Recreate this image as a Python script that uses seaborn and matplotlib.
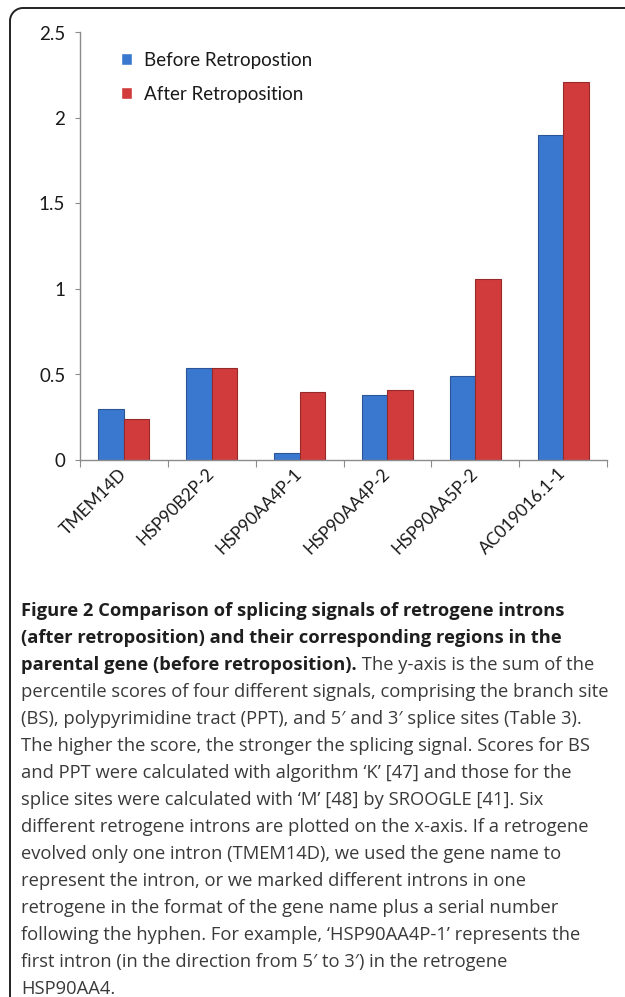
import numpy as np
import pandas as pd
import matplotlib
matplotlib.use("Agg")
import matplotlib.pyplot as plt
from matplotlib import font_manager
from matplotlib.path import Path
from matplotlib.patches import PathPatch
import seaborn as sns

# ---- data ----
categories = ["TMEM14D", "HSP90B2P-2", "HSP90AA4P-1", "HSP90AA4P-2", "HSP90AA5P-2", "AC019016.1-1"]
before_values = [0.30, 0.54, 0.04, 0.38, 0.49, 1.90]
after_values = [0.24, 0.54, 0.40, 0.41, 1.06, 2.21]
series_names = ["Before Retropostion", "After Retroposition"]
y_ticks = [0, 0.5, 1, 1.5, 2, 2.5]
y_ticklabels = ["0", "0.5", "1", "1.5", "2", "2.5"]

caption_lines = [
    [("Figure 2 Comparison of splicing signals of retrogene introns", True)],
    [("(after retroposition) and their corresponding regions in the", True)],
    [("parental gene (before retroposition).", True), (" The y-axis is the sum of the", False)],
    [("percentile scores of four different signals, comprising the branch site", False)],
    [("(BS), polypyrimidine tract (PPT), and 5\u2032 and 3\u2032 splice sites (Table 3).", False)],
    [("The higher the score, the stronger the splicing signal. Scores for BS", False)],
    [("and PPT were calculated with algorithm \u2018K\u2019 [47] and those for the", False)],
    [("splice sites were calculated with \u2018M\u2019 [48] by SROOGLE [41]. Six", False)],
    [("different retrogene introns are plotted on the x-axis. If a retrogene", False)],
    [("evolved only one intron (TMEM14D), we used the gene name to", False)],
    [("represent the intron, or we marked different introns in one", False)],
    [("retrogene in the format of the gene name plus a serial number", False)],
    [("following the hyphen. For example, \u2018HSP90AA4P-1\u2019 represents the", False)],
    [("first intron (in the direction from 5\u2032 to 3\u2032) in the retrogene", False)],
    [("HSP90AA4.", False)],
]

# ---- style ----
sns.set_style("white")
names = {f.name for f in font_manager.fontManager.ttflist}
chart_font = "Lato" if "Lato" in names else "DejaVu Sans"
cap_font = "Liberation Sans Narrow" if "Liberation Sans Narrow" in names else "Open Sans"
plt.rcParams["font.family"] = [chart_font, "DejaVu Sans"]

W, H = 625, 997
fig = plt.figure(figsize=(W / 100, H / 100), dpi=100)
fig.patch.set_facecolor("white")

ax_left, ax_right, ax_top, ax_bottom = 80, 607, 32.5, 460
ax = fig.add_axes([ax_left / W, 1 - ax_bottom / H, (ax_right - ax_left) / W, (ax_bottom - ax_top) / H])

df = pd.DataFrame({
    "category": categories * 2,
    "value": before_values + after_values,
    "series": [series_names[0]] * len(categories) + [series_names[1]] * len(categories),
})
palette = {series_names[0]: "#3a78cf", series_names[1]: "#d13b3b"}
sns.barplot(data=df, x="category", y="value", hue="series", order=categories,
            hue_order=series_names, palette=palette, width=0.58, gap=0,
            saturation=1, ax=ax, errorbar=None)
edge = {series_names[0]: "#2a5596", series_names[1]: "#962a2a"}
for cont, name in zip(ax.containers, series_names):
    for bar in cont:
        bar.set_edgecolor(edge[name])
        bar.set_linewidth(0.8)

ax.set_xlim(-0.5, len(categories) - 0.5)
ax.set_ylim(0, 2.5)
ax.set_yticks(y_ticks)
ax.set_yticklabels(y_ticklabels)
ax.set_xlabel("")
ax.set_ylabel("")
for s in ["top", "right"]:
    ax.spines[s].set_visible(False)
for s in ["left", "bottom"]:
    ax.spines[s].set_color("#8c8c8c")
    ax.spines[s].set_linewidth(1)

ax.tick_params(axis="y", direction="out", length=3.6, width=0.8, color="#8c8c8c",
               pad=7, labelsize=13.5, labelcolor="#1a1a1a", left=True)
ax.set_xticks(np.arange(len(categories)))
ax.set_xticks(np.arange(-0.5, len(categories)), minor=True)
ax.tick_params(axis="x", which="major", length=0, pad=8)
ax.tick_params(axis="x", which="minor", direction="out", length=5, width=0.8,
               color="#8c8c8c", bottom=True)
ax.set_xticklabels(categories, rotation=45, ha="right", va="center",
                   rotation_mode="anchor", fontsize=12.5, color="#1a1a1a")

leg = ax.legend(loc="upper left", bbox_to_anchor=(121 / W, 1 - 52 / H),
                bbox_transform=fig.transFigure, frameon=False, fontsize=13.5,
                handlelength=0.6, handleheight=0.6, handletextpad=0.6,
                labelspacing=0.9, borderpad=0, borderaxespad=0)
for t in leg.get_texts():
    t.set_color("#1a1a1a")

# ---- border (top-left rounded frame) ----
x0, y0, r = 10 / 100, (H - 8) / 100, 0.13
theta = np.linspace(np.pi, np.pi / 2, 20)
arc = np.column_stack([x0 + r + r * np.cos(theta), y0 - r + r * np.sin(theta)])
verts = np.vstack([[x0, -0.2], arc, [W / 100 + 0.2, y0]])
fig.add_artist(PathPatch(Path(verts), transform=fig.dpi_scale_trans, fill=False,
                         edgecolor="#222222", linewidth=1.4))

# ---- caption ----
fig.canvas.draw()
renderer = fig.canvas.get_renderer()
cap_size = 14.4
probe = fig.text(0, 0, caption_lines[3][0][0], fontsize=cap_size,
                 family=[cap_font, "DejaVu Sans"])
pw = probe.get_window_extent(renderer=renderer).width
probe.remove()
cap_size = cap_size * 590.0 / pw

for i, parts in enumerate(caption_lines):
    base_y = 616 + 27 * i
    x = 21
    for text, bold in parts:
        t = fig.text(x / W, 1 - base_y / H, text, fontsize=cap_size,
                     family=[cap_font, "DejaVu Sans"],
                     fontweight="bold" if bold else "normal",
                     color="#1e1e1e" if bold else "#3a3a3a",
                     ha="left", va="baseline")
        bb = t.get_window_extent(renderer=renderer)
        x = bb.x1

fig.savefig("out.png", dpi=100, facecolor="white")
